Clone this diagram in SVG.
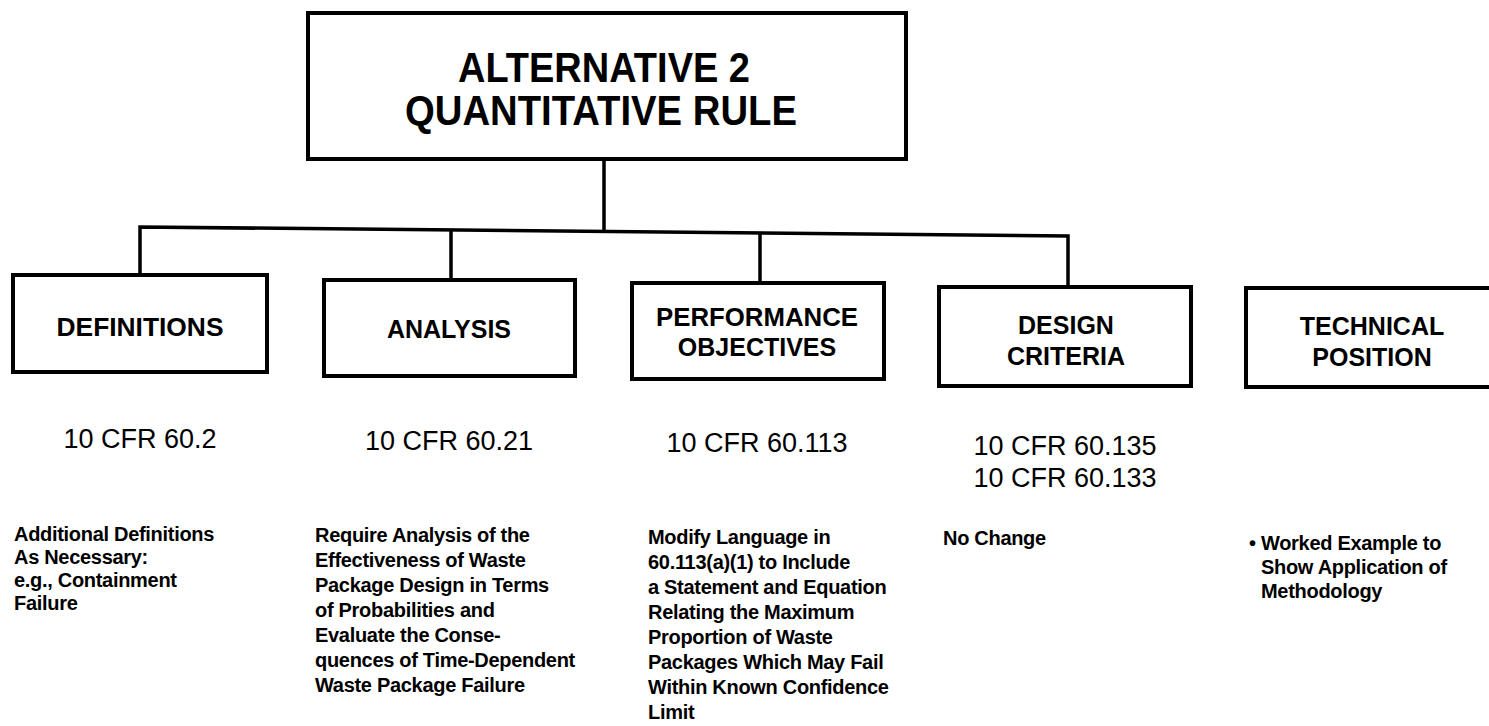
<svg xmlns="http://www.w3.org/2000/svg" width="1489" height="726" viewBox="0 0 1489 726">
<style>
  .box { fill: #fff; stroke: #000; stroke-width: 4; }
  .conn { fill: none; stroke: #000; stroke-width: 3.5; }
  .title { font-family: "Liberation Sans", Arial, Helvetica, sans-serif; font-weight: bold; font-size: 42px; fill: #000; text-anchor: middle; }
  .head { font-family: "Liberation Sans", Arial, Helvetica, sans-serif; font-weight: bold; font-size: 25px; fill: #000; text-anchor: middle; }
  .cfr { font-family: "Liberation Sans", Arial, Helvetica, sans-serif; font-size: 27px; fill: #000; text-anchor: middle; }
  .desc { font-family: "Liberation Sans", Arial, Helvetica, sans-serif; font-weight: bold; font-size: 20px; letter-spacing: -0.3px; fill: #000; }
</style>
<rect width="1489" height="726" fill="#fff"/>
<g id="connectors">
  <path class="conn" d="M140,275 V227 L1068,236 V287"/>
  <path class="conn" d="M451,230 V280"/>
  <path class="conn" d="M760,233 V285"/>
  <path class="conn" d="M604,158 V232"/>
</g>
<g id="root">
  <rect class="box" x="308" y="13" width="598" height="146"/>
  <text class="title" x="604" y="82" textLength="292" lengthAdjust="spacingAndGlyphs">ALTERNATIVE 2</text>
  <text class="title" x="601" y="125" textLength="392" lengthAdjust="spacingAndGlyphs">QUANTITATIVE RULE</text>
</g>
<g id="definitions">
  <rect class="box" x="13" y="275" width="254" height="97"/>
  <text class="head" x="140" y="336" textLength="167" lengthAdjust="spacingAndGlyphs">DEFINITIONS</text>
  <text class="cfr" x="140" y="448">10 CFR 60.2</text>
  <text class="desc"><tspan x="14" y="541">Additional Definitions</tspan><tspan x="14" y="564">As Necessary:</tspan><tspan x="14" y="587">e.g., Containment</tspan><tspan x="14" y="610">Failure</tspan></text>
</g>
<g id="analysis">
  <rect class="box" x="324" y="280" width="251" height="96"/>
  <text class="head" x="449" y="338">ANALYSIS</text>
  <text class="cfr" x="449" y="450">10 CFR 60.21</text>
  <text class="desc"><tspan x="315" y="542">Require Analysis of the</tspan><tspan x="315" y="567">Effectiveness of Waste</tspan><tspan x="315" y="592">Package Design in Terms</tspan><tspan x="315" y="617">of Probabilities and</tspan><tspan x="315" y="642">Evaluate the Conse-</tspan><tspan x="315" y="667">quences of Time-Dependent</tspan><tspan x="315" y="692">Waste Package Failure</tspan></text>
</g>
<g id="performance">
  <rect class="box" x="632" y="283" width="252" height="96"/>
  <text class="head" x="757" y="326" textLength="202" lengthAdjust="spacingAndGlyphs">PERFORMANCE</text>
  <text class="head" x="757" y="356">OBJECTIVES</text>
  <text class="cfr" x="757" y="452">10 CFR 60.113</text>
  <text class="desc"><tspan x="648" y="544">Modify Language in</tspan><tspan x="648" y="569">60.113(a)(1) to Include</tspan><tspan x="648" y="594">a Statement and Equation</tspan><tspan x="648" y="619">Relating the Maximum</tspan><tspan x="648" y="644">Proportion of Waste</tspan><tspan x="648" y="669">Packages Which May Fail</tspan><tspan x="648" y="694">Within Known Confidence</tspan><tspan x="648" y="719">Limit</tspan></text>
</g>
<g id="design">
  <rect class="box" x="939" y="287" width="252" height="99"/>
  <text class="head" x="1066" y="334">DESIGN</text>
  <text class="head" x="1066" y="365">CRITERIA</text>
  <text class="cfr" x="1065" y="455">10 CFR 60.135</text>
  <text class="cfr" x="1065" y="487">10 CFR 60.133</text>
  <text class="desc" x="943" y="545">No Change</text>
</g>
<g id="technical">
  <rect class="box" x="1246" y="288" width="260" height="99"/>
  <text class="head" x="1372" y="335">TECHNICAL</text>
  <text class="head" x="1372" y="366">POSITION</text>
  <text class="desc"><tspan x="1249" y="550">• Worked Example to</tspan><tspan x="1261" y="574">Show Application of</tspan><tspan x="1261" y="598">Methodology</tspan></text>
</g>
</svg>
